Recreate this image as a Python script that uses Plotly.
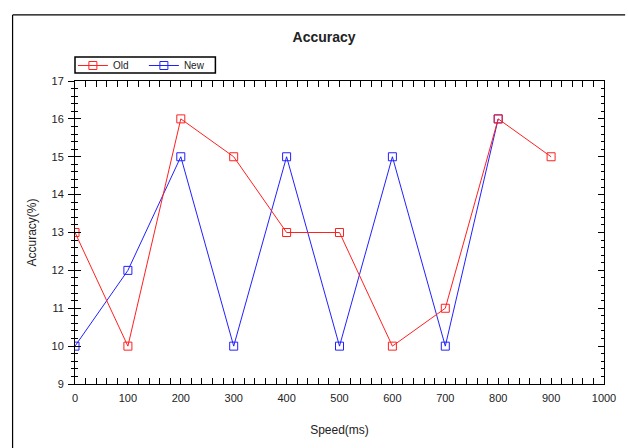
import plotly.graph_objects as go

speed = [0, 100, 200, 300, 400, 500, 600, 700, 800, 900]
old_acc = [13, 10, 16, 15, 13, 13, 10, 11, 16, 15]
new_speed = [0, 100, 200, 300, 400, 500, 600, 700, 800]
new_acc = [10, 12, 15, 10, 15, 10, 15, 10, 16]

x_ticks = list(range(0, 1001, 100))
y_ticks = list(range(9, 18))

font = "Liberation Sans, Arial, sans-serif"

fig = go.Figure()
fig.add_trace(go.Scatter(x=new_speed, y=new_acc, name="New", mode="lines+markers",
                         line=dict(color="#2020ff", width=1),
                         marker=dict(symbol="square-open", size=8, color="#2020ff", line=dict(width=1))))
fig.add_trace(go.Scatter(x=speed, y=old_acc, name="Old", mode="lines+markers",
                         line=dict(color="#ff2020", width=1),
                         marker=dict(symbol="square-open", size=8, color="#ff2020", line=dict(width=1))))
fig.add_trace(go.Scatter(x=[None], y=[None], yaxis="y2", showlegend=False, hoverinfo="skip"))

axis_common = dict(showgrid=False, zeroline=False, showline=True, linecolor="black",
                   linewidth=1, ticks="inside", ticklen=6, tickcolor="black",
                   tickfont=dict(family=font, size=11, color="#222"), mirror="allticks")

fig.update_layout(
    width=628, height=448,
    margin=dict(l=75, r=18, t=81, b=64),
    paper_bgcolor="white", plot_bgcolor="white",
    title=dict(text="<b>Accuracy</b>", x=0.516, xanchor="center", y=0.917, yanchor="middle",
               font=dict(family=font, size=14, color="#222")),
    legend=dict(orientation="h", x=-0.004, y=1.099, xanchor="left", yanchor="top",
                borderwidth=0, bgcolor="rgba(0,0,0,0)",
                font=dict(family=font, size=10, color="#222"), traceorder="reversed",
                entrywidth=26, entrywidthmode="pixels", itemwidth=30, tracegroupgap=0),
    xaxis=dict(range=[0, 1000], tickvals=x_ticks, ticktext=[str(v) for v in x_ticks],
               minor=dict(dtick=20, ticks="inside", ticklen=3, tickcolor="black"),
               ticklabelstandoff=4,
               title=dict(text="Speed(ms)", font=dict(family=font, size=12, color="#222"), standoff=22),
               **axis_common),
    yaxis=dict(range=[9, 17], tickvals=y_ticks, ticktext=[str(v) for v in y_ticks],
               minor=dict(dtick=0.2, ticks="inside", ticklen=3, tickcolor="black"),
               ticklabelstandoff=8,
               title=dict(text="Accuracy(%)", font=dict(family=font, size=12, color="#222"), standoff=12),
               **axis_common),
    yaxis2=dict(range=[9, 17], overlaying="y", side="left", showgrid=False, zeroline=False,
                showline=False, ticks="outside", ticklen=6, tickcolor="black",
                tickvals=y_ticks, showticklabels=False,
                minor=dict(dtick=0.2, ticks="outside", ticklen=3, tickcolor="black")),
    showlegend=True,
)

# legend box
fig.add_shape(type="rect", xref="paper", yref="paper", x0=0.0, x1=0.2654, y0=1.0264, y1=1.0792,
              line=dict(color="black", width=1.5), fillcolor="rgba(0,0,0,0)", layer="above")
# outer frame lines
fig.add_shape(type="line", xref="paper", yref="paper", x0=-0.118, x1=1.04, y0=1.218, y1=1.218,
              line=dict(color="black", width=1.2))
fig.add_shape(type="line", xref="paper", yref="paper", x0=-0.118, x1=-0.118, y0=1.218, y1=-0.22,
              line=dict(color="black", width=1.2))

fig.write_html("out.html")
